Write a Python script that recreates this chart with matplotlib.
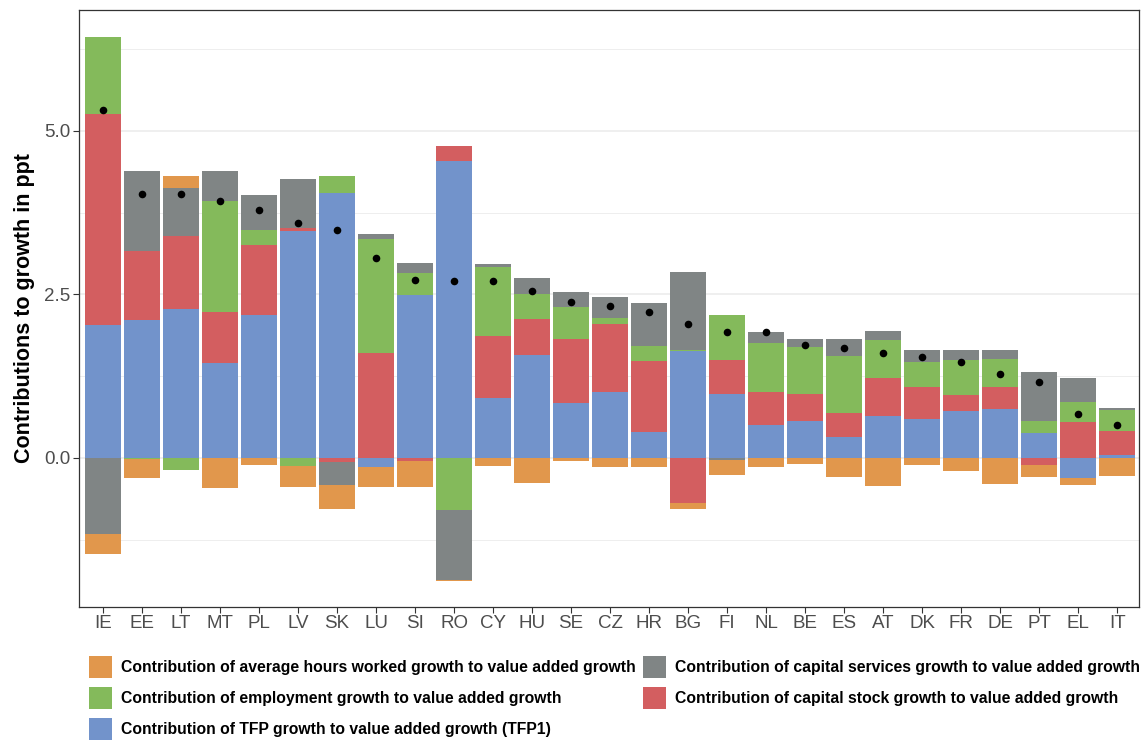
import matplotlib
matplotlib.use('Agg')
import matplotlib.pyplot as plt
import numpy as np
from matplotlib.patches import Patch

countries = ["IE", "EE", "LT", "MT", "PL", "LV", "SK", "LU", "SI", "RO", "CY", "HU", "SE", "CZ",
             "HR", "BG", "FI", "NL", "BE", "ES", "AT", "DK", "FR", "DE", "PT", "EL", "IT"]

tfp = [2.03, 2.11, 2.28, 1.45, 2.18, 3.47, 4.05, -0.14, 2.49, 4.54, 0.92, 1.57, 0.84, 1.01,
       0.40, 1.63, 0.98, 0.50, 0.56, 0.32, 0.64, 0.59, 0.72, 0.75, 0.38, -0.31, 0.04]
capital_stock = [3.23, 1.06, 1.12, 0.78, 1.08, 0.05, -0.06, 1.60, -0.05, 0.23, 0.95, 0.55, 0.98, 1.04,
                 1.08, -0.69, 0.52, 0.51, 0.42, 0.37, 0.58, 0.49, 0.24, 0.33, -0.11, 0.55, 0.37]
employment = [1.18, -0.02, -0.19, 1.70, 0.23, -0.13, 0.26, 1.75, 0.34, -0.80, 1.05, 0.39, 0.49, 0.09,
              0.23, 0.02, 0.69, 0.75, 0.72, 0.87, 0.58, 0.39, 0.54, 0.43, 0.19, 0.30, 0.32]
capital_services = [-1.17, 1.22, 0.73, 0.46, 0.53, 0.75, -0.36, 0.08, 0.15, -1.07, 0.05, 0.24, 0.23, 0.32,
                    0.66, 1.19, -0.03, 0.17, 0.12, 0.26, 0.14, 0.18, 0.15, 0.14, 0.74, 0.37, 0.03]
hours = [-0.30, -0.29, 0.18, -0.46, -0.11, -0.32, -0.36, -0.30, -0.39, -0.02, -0.12, -0.38, -0.05, -0.14,
         -0.14, -0.09, -0.23, -0.14, -0.10, -0.29, -0.43, -0.11, -0.20, -0.40, -0.18, -0.10, -0.28]
total = [5.32, 4.03, 4.03, 3.93, 3.79, 3.59, 3.48, 3.05, 2.72, 2.70, 2.70, 2.55, 2.39, 2.33,
         2.23, 2.05, 1.93, 1.92, 1.72, 1.68, 1.61, 1.54, 1.46, 1.29, 1.16, 0.67, 0.50]

labels = {
    "hours": "Contribution of average hours worked growth to value added growth",
    "emp": "Contribution of employment growth to value added growth",
    "tfp": "Contribution of TFP growth to value added growth (TFP1)",
    "csv": "Contribution of capital services growth to value added growth",
    "cst": "Contribution of capital stock growth to value added growth",
}
colors = {"tfp": "#7293CB", "cst": "#D35E60", "emp": "#84BA5B", "csv": "#808585", "hours": "#E1974C"}

plt.rcParams['font.family'] = ['Liberation Sans', 'DejaVu Sans']

W, H = 1145, 740
fig = plt.figure(figsize=(W / 100, H / 100), dpi=100)
L, R, T, B = 79, 1139, 10, 607
ax = fig.add_axes([L / W, 1 - B / H, (R - L) / W, (B - T) / H])

x = np.arange(len(countries))
pos_base = np.zeros(len(x))
neg_base = np.zeros(len(x))
for key, vals in [("tfp", tfp), ("cst", capital_stock), ("emp", employment),
                  ("csv", capital_services), ("hours", hours)]:
    v = np.array(vals, dtype=float)
    p = np.where(v > 0, v, 0.0)
    q = np.where(v < 0, v, 0.0)
    ax.bar(x, p, bottom=pos_base, width=0.92, color=colors[key], linewidth=0, zorder=2)
    ax.bar(x, q, bottom=neg_base, width=0.92, color=colors[key], linewidth=0, zorder=2)
    pos_base += p
    neg_base += q

ax.scatter(x, total, s=30, color='black', zorder=3, linewidths=0)

ax.set_xlim(-0.615, len(x) - 1 + 0.56)
ax.set_ylim(-2.28, 6.85)
ax.set_xticks(x)
ax.set_xticklabels(countries)
ax.set_yticks([0, 2.5, 5.0])
ax.set_yticklabels(["0.0", "2.5", "5.0"])
ax.set_yticks([-1.25, 1.25, 3.75, 6.25], minor=True)
ax.yaxis.grid(True, which='major', color='#EBEBEB', linewidth=1.1)
ax.yaxis.grid(True, which='minor', color='#EBEBEB', linewidth=0.6)
ax.xaxis.grid(False)
ax.set_axisbelow(True)
ax.tick_params(axis='both', which='major', length=4, width=0.8, color='#333333',
               labelsize=13.5, labelcolor='#4D4D4D', pad=2)
ax.tick_params(axis='y', which='minor', length=0)
for s in ax.spines.values():
    s.set_color('#333333')
    s.set_linewidth(0.9)

ax.set_ylabel("Contributions to growth in ppt", fontsize=15.5, fontweight='bold', color='black')
ax.yaxis.set_label_coords((35 - L) / (R - L), 0.5)

def h(k):
    return Patch(facecolor=colors[k], edgecolor='none', label=labels[k])

common = dict(frameon=False, handlelength=1.465, handleheight=1.78,
              handletextpad=0.57, labelspacing=0.57, borderpad=0, borderaxespad=0,
              prop={'weight': 'bold', 'size': 11.3})
leg1 = fig.legend(handles=[h("hours"), h("emp"), h("tfp")], loc='upper left',
                  bbox_to_anchor=(89 / W, 1 - 656 / H), **common)
leg2 = fig.legend(handles=[h("csv"), h("cst")], loc='upper left',
                  bbox_to_anchor=(643 / W, 1 - 656 / H), **common)

fig.savefig("out.png", dpi=100)
